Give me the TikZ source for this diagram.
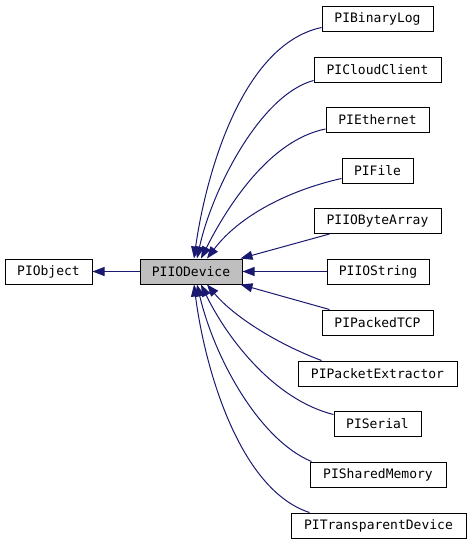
\documentclass[tikz,border=0pt]{standalone}
\usepackage{fontspec}
\setmonofont{DejaVu Sans Mono}
\usetikzlibrary{arrows.meta}
\definecolor{midnight}{RGB}{25,25,112}
\definecolor{boxgray}{RGB}{191,191,191}
\tikzset{
  cls/.style={draw=black, line width=1pt, fill=white, minimum height=25pt, inner sep=0pt,
    font=\ttfamily\fontsize{13}{15}\selectfont, text=black},
  cur/.style={cls, fill=boxgray},
  edge/.style={draw=midnight, line width=1pt, -{Triangle[length=12pt,width=9pt]}, color=midnight}
}
\begin{document}
\begin{tikzpicture}[x=1pt,y=-1pt]
\useasboundingbox (0,0) rectangle (471,544);
\node[cls, minimum width=87pt] (obj) at (48.5,271.5) {PIObject};
\node[cur, minimum width=102pt] (dev) at (191,271.5) {PIIODevice};
\node[cls, minimum width=111pt] (binlog) at (377.5,18.5) {PIBinaryLog};
\node[cls, minimum width=127pt] (cloud) at (377.5,69.5) {PICloudClient};
\node[cls, minimum width=103pt] (eth) at (377.5,120) {PIEthernet};
\node[cls, minimum width=71pt] (file) at (377.5,170.5) {PIFile};
\node[cls, minimum width=127pt] (bytearr) at (377.5,221) {PIIOByteArray};
\node[cls, minimum width=102pt] (iostr) at (378,271.5) {PIIOString};
\node[cls, minimum width=111pt] (tcp) at (377.5,322.5) {PIPackedTCP};
\node[cls, minimum width=159pt] (pext) at (377.5,373.5) {PIPacketExtractor};
\node[cls, minimum width=87pt] (serial) at (377.5,423.5) {PISerial};
\node[cls, minimum width=136pt] (shm) at (378,474.5) {PISharedMemory};
\node[cls, minimum width=175pt] (tdev) at (378.5,525.5) {PITransparentDevice};

\draw[edge] (dev.west) -- (obj.east);
\draw[edge] ([yshift=4pt]binlog.south west) .. controls (240,45) and (205,180) .. ([xshift=3pt]dev.north);
\draw[edge] ([yshift=2pt]cloud.south west) .. controls (260,95) and (212,190) .. ([xshift=6pt]dev.north);
\draw[edge] ([yshift=4pt]eth.south west) .. controls (270,140) and (228,205) .. ([xshift=10pt]dev.north);
\draw[edge] ([yshift=5pt]file.south west) .. controls (290,190) and (240,215) .. ([xshift=16pt]dev.north);
\draw[edge] ([xshift=16pt]bytearr.south west) -- ([xshift=-2pt]dev.north east);
\draw[edge] (iostr.west) -- (dev.east);
\draw[edge] ([xshift=8pt]tcp.north west) -- ([xshift=-2pt]dev.south east);
\draw[edge] ([xshift=24pt]pext.north west) .. controls (280,345) and (235,318) .. ([xshift=16pt]dev.south);
\draw[edge] ([yshift=-4pt]serial.north west) .. controls (275,400) and (228,340) .. ([xshift=10pt]dev.south);
\draw[edge] ([xshift=2pt]shm.north west) .. controls (260,440) and (215,360) .. ([xshift=6pt]dev.south);
\draw[edge] ([xshift=19pt]tdev.north west) .. controls (240,490) and (205,370) .. ([xshift=3pt]dev.south);
\end{tikzpicture}
\end{document}
